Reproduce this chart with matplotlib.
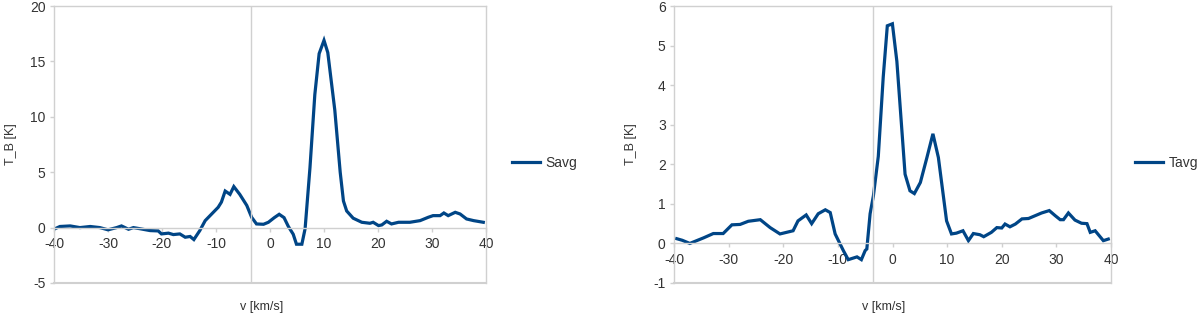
import matplotlib
matplotlib.use("Agg")
import matplotlib.pyplot as plt

############## data ###############

# Savg spectrum (left panel)
s_v = [-39.8, -38.9, -37.0, -35.2, -33.3, -31.5, -30.0, -28.4, -27.5, -26.2,
       -25.3, -24.1, -22.2, -20.7, -20.1, -18.8, -17.9, -16.7, -15.7, -14.8,
       -14.1, -13.0, -12.0, -10.5, -9.6, -9.0, -8.3, -7.4, -6.7, -5.6,
       -4.3, -3.4, -2.5, -1.2, -0.3, 0.8, 1.7, 2.6, 3.4, 4.3,
       4.9, 5.9, 6.5, 7.4, 8.3, 9.1, 10.0, 10.7, 12.0, 13.0,
       13.6, 14.2, 15.4, 17.0, 18.5, 19.1, 20.1, 20.7, 21.6, 22.5,
       23.8, 25.9, 27.8, 29.3, 30.2, 31.5, 32.2, 33.0, 34.3, 35.2,
       36.4, 37.7, 39.5]
s_tb = [-0.1, 0.1, 0.15, 0.0, 0.1, 0.0, -0.2, 0.0, 0.15, -0.15,
        0.0, -0.1, -0.27, -0.3, -0.57, -0.5, -0.63, -0.57, -0.87, -0.8,
        -1.08, -0.27, 0.63, 1.38, 1.83, 2.3, 3.3, 3.0, 3.7, 3.0,
        2.0, 0.93, 0.33, 0.3, 0.48, 0.9, 1.2, 0.9, 0.1, -0.6,
        -1.5, -1.5, -0.1, 5.4, 12.0, 15.7, 16.9, 15.8, 10.6, 5.0,
        2.4, 1.5, 0.85, 0.48, 0.39, 0.48, 0.18, 0.24, 0.57, 0.33,
        0.48, 0.48, 0.63, 0.93, 1.08, 1.08, 1.32, 1.08, 1.38, 1.23,
        0.78, 0.63, 0.48]

# Tavg spectrum (right panel)
t_v = [-39.5, -38.5, -37.1, -34.6, -32.8, -31.0, -29.4, -27.9, -26.4, -24.2,
       -22.4, -20.6, -18.2, -17.3, -15.8, -14.8, -13.6, -12.3, -11.4, -10.5,
       -9.0, -8.1, -6.5, -5.7, -5.0, -4.7, -4.1, -3.5, -2.6, -1.7,
       -0.95, -0.02, 0.8, 2.3, 3.2, 4.0, 5.1, 6.3, 7.4, 8.4,
       9.9, 10.8, 11.7, 12.9, 13.9, 14.8, 16.0, 16.7, 18.1, 19.1,
       20.0, 20.6, 21.5, 22.5, 23.7, 24.9, 26.1, 27.3, 28.7, 29.8,
       30.7, 31.3, 32.2, 33.4, 34.6, 35.6, 36.2, 37.1, 38.0, 38.6,
       39.5]
t_tb = [0.12, 0.08, 0.0, 0.14, 0.25, 0.25, 0.47, 0.48, 0.56, 0.6,
        0.4, 0.24, 0.32, 0.57, 0.72, 0.5, 0.75, 0.85, 0.78, 0.24,
        -0.18, -0.41, -0.34, -0.41, -0.18, -0.14, 0.75, 1.2, 2.2, 4.2,
        5.5, 5.55, 4.6, 1.75, 1.33, 1.26, 1.54, 2.17, 2.77, 2.17,
        0.57, 0.24, 0.26, 0.32, 0.07, 0.25, 0.22, 0.17, 0.28, 0.4,
        0.39, 0.49, 0.42, 0.49, 0.62, 0.63, 0.7, 0.77, 0.83, 0.7,
        0.6, 0.6, 0.77, 0.59, 0.51, 0.5, 0.28, 0.32, 0.17, 0.07,
        0.11]

x_ticks = [-40, -30, -20, -10, 0, 10, 20, 30, 40]
s_yticks = [-5, 0, 5, 10, 15, 20]
t_yticks = [-1, 0, 1, 2, 3, 4, 5, 6]

####################################

plt.rcParams['font.family'] = ['Liberation Sans', 'DejaVu Sans']
plt.rcParams['axes.unicode_minus'] = False

blue = "#004586"
grid_gray = "#d0d0d0"
text_col = "#333333"

fig = plt.figure(figsize=(12, 3.15), dpi=100)
fig.patch.set_facecolor("white")


def panel(rect, v, tb, yticks, name, leg_x):
    ax = fig.add_axes(rect)
    ax.plot(v, tb, color=blue, lw=2.3, label=name, solid_joinstyle="miter")
    ax.set_xlim(-40, 40)
    ax.set_ylim(yticks[0], yticks[-1])
    ax.set_xticks(x_ticks)
    ax.set_yticks(yticks)

    for s in ax.spines.values():
        s.set_color(grid_gray)
        s.set_linewidth(1.0)
    # x axis runs through y = 0
    ax.spines['bottom'].set_position(('data', 0))
    ax.axhline(yticks[0], color=grid_gray, lw=1.5, clip_on=False)
    ax.axvline(-3.5, color=grid_gray, lw=1.0)

    ax.tick_params(axis='both', colors=grid_gray, labelcolor=text_col,
                   labelsize=10, length=3, width=1.0, direction='out')
    ax.tick_params(axis='x', pad=4)
    ax.tick_params(axis='y', pad=3)

    ax.set_xlabel("v [km/s]", fontsize=9, color=text_col)
    ax.set_ylabel("T_B [K]", fontsize=9, color=text_col)
    ax.xaxis.set_label_coords(0.48, -0.065)
    ax.yaxis.set_label_coords(-0.085, 0.5)

    fig.legend(handles=ax.get_lines(), labels=[name], loc='center left',
               bbox_to_anchor=(leg_x, 1 - 163 / 315), frameon=False,
               fontsize=10, handlelength=2.0, handletextpad=0.4,
               borderpad=0, borderaxespad=0, labelcolor=text_col)
    return ax


panel([54 / 1200, 1 - 283 / 315, 432 / 1200, 277 / 315],
      s_v, s_tb, s_yticks, "Savg", 512 / 1200)
panel([674 / 1200, 1 - 283 / 315, 437 / 1200, 277 / 315],
      t_v, t_tb, t_yticks, "Tavg", 1135 / 1200)

fig.savefig("out.png", dpi=100, facecolor="white")
